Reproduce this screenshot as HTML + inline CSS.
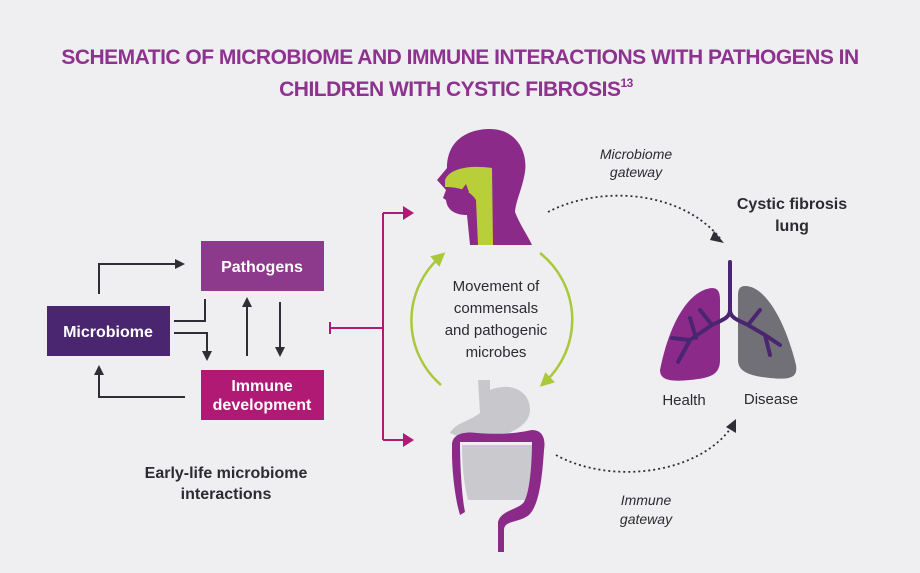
<!DOCTYPE html>
<html><head><meta charset="utf-8"><style>
body{margin:0;background:#efeef1;}
svg{display:block;font-family:"Liberation Sans",sans-serif;}
</style></head><body>
<svg width="920" height="573" viewBox="0 0 920 573">
<rect width="920" height="573" fill="#efeef1"/>
<text x="460" y="64" text-anchor="middle" font-size="21" font-weight="bold" fill="#8e3290" letter-spacing="-0.5">SCHEMATIC OF MICROBIOME AND IMMUNE INTERACTIONS WITH PATHOGENS IN</text>
<text x="456" y="96" text-anchor="middle" font-size="21" font-weight="bold" fill="#8e3290" letter-spacing="-0.5">CHILDREN WITH CYSTIC FIBROSIS<tspan font-size="12" dy="-9">13</tspan></text>

<defs>
<marker id="ah" markerWidth="10" markerHeight="10" refX="5" refY="5" orient="auto" markerUnits="userSpaceOnUse"><path d="M0,0 L10,5 L0,10z" fill="#2e2f36"/></marker>
<marker id="ag" markerWidth="14" markerHeight="14" refX="7" refY="7" orient="auto" markerUnits="userSpaceOnUse"><path d="M0,0 L14,7 L0,14z" fill="#a9c83a"/></marker>
</defs>

<rect x="47" y="306" width="123" height="50" fill="#4b2670"/>
<text x="108" y="337" text-anchor="middle" font-size="16" font-weight="bold" fill="#fff">Microbiome</text>
<rect x="201" y="241" width="123" height="50" fill="#8d3a8c"/>
<text x="262" y="272" text-anchor="middle" font-size="16" font-weight="bold" fill="#fff">Pathogens</text>
<rect x="201" y="370" width="123" height="50" fill="#b01a74"/>
<text x="262" y="391" text-anchor="middle" font-size="16" font-weight="bold" fill="#fff">Immune</text>
<text x="262" y="410" text-anchor="middle" font-size="16" font-weight="bold" fill="#fff">development</text>

<g stroke="#2e2f36" stroke-width="2" fill="none">
<path d="M99,294 V264 H180" marker-end="url(#ah)"/>
<path d="M174,321 H205 V299"/>
<path d="M174,333 H207 V356" marker-end="url(#ah)"/>
<path d="M247,356 V302" marker-end="url(#ah)"/>
<path d="M280,302 V352" marker-end="url(#ah)"/>
<path d="M185,397 H99 V370" marker-end="url(#ah)"/>
</g>
<g stroke="#b01a74" stroke-width="2" fill="none">
<path d="M330,322 V334 M330,328 H383 M383,213 V440 M383,213 H408 M383,440 H408"/>
</g>
<path d="M403,206 L414,213 L403,220z M403,433 L414,440 L403,447z" fill="#b01a74"/>

<text x="226" y="478" text-anchor="middle" font-size="16" font-weight="bold" fill="#2b2b30">Early-life microbiome</text>
<text x="226" y="499" text-anchor="middle" font-size="16" font-weight="bold" fill="#2b2b30">interactions</text>

<!-- head -->
<path d="M470,245 L467,215 C455,215 447,210 446,200 L443,198 L446,190 L437,180 L447,168 C447,140 468,129 490,129 C515,129 528,150 525,172 C522,190 516,200 515,212 C520,225 528,236 532,245 Z" fill="#8c2a8a"/>
<path d="M445,180 C450,168 470,165 492,168 L493,245 L478,245 L476,200 C470,190 458,187 445,187Z" fill="#b8cf3a"/>
<path d="M460,192 l6,-8 l3,8 l-6,3z" fill="#8c2a8a"/>
<!-- gut -->
<path d="M478,380 h12 v10 c20,-8 40,0 40,20 c0,15 -20,25 -40,28 c-15,2 -30,0 -40,-5 c5,-10 20,-12 30,-20 z" fill="#c8c8cc"/>
<path d="M462,445 h72 c0,25 -2,45 -6,55 h-60 c-4,-15 -6,-35 -6,-55z" fill="#c9c9ce"/>
<path d="M452,445 c0,-10 10,-14 25,-12 c25,2 40,0 55,-3 c10,0 14,8 12,20 c-2,30 -5,55 -15,65 c-10,8 -25,5 -25,15 v22 h-6 v-30 c3,-12 20,-12 26,-20 c6,-10 8,-40 8,-60 h-72 c0,25 2,55 5,70 l-5,3 c-6,-20 -8,-50 -8,-60z" fill="#8c2a8a"/>

<!-- green arcs -->
<path d="M441,385 A85,85 0 0 1 440,257" stroke="#a9c83a" stroke-width="2.5" fill="none" marker-end="url(#ag)"/>
<path d="M540,253 A85,85 0 0 1 545,382" stroke="#a9c83a" stroke-width="2.5" fill="none" marker-end="url(#ag)"/>
<text x="496" y="291" text-anchor="middle" font-size="15" fill="#2b2b30">Movement of</text>
<text x="496" y="313" text-anchor="middle" font-size="15" fill="#2b2b30">commensals</text>
<text x="496" y="335" text-anchor="middle" font-size="15" fill="#2b2b30">and pathogenic</text>
<text x="496" y="357" text-anchor="middle" font-size="15" fill="#2b2b30">microbes</text>

<!-- dotted -->
<path d="M548,212 C600,185 680,190 720,238" stroke="#2e2f36" stroke-width="1.8" stroke-dasharray="2,3" fill="none"/>
<path d="M714,231 L724,243 L710,240z" fill="#2e2f36"/>
<path d="M556,455 C610,485 700,475 733,425" stroke="#2e2f36" stroke-width="1.8" stroke-dasharray="2,3" fill="none"/>
<path d="M726,427 L736,419 L736,433z" fill="#2e2f36"/>
<text x="636" y="159" text-anchor="middle" font-size="14" font-style="italic" fill="#2b2b30">Microbiome</text>
<text x="636" y="177" text-anchor="middle" font-size="14" font-style="italic" fill="#2b2b30">gateway</text>
<text x="646" y="505" text-anchor="middle" font-size="14" font-style="italic" fill="#2b2b30">Immune</text>
<text x="646" y="524" text-anchor="middle" font-size="14" font-style="italic" fill="#2b2b30">gateway</text>
<text x="792" y="209" text-anchor="middle" font-size="16" font-weight="bold" fill="#2b2b30">Cystic fibrosis</text>
<text x="792" y="231" text-anchor="middle" font-size="16" font-weight="bold" fill="#2b2b30">lung</text>

<!-- lungs -->
<path d="M712,288 C690,290 670,320 660,370 C660,380 670,382 690,380 C710,378 720,375 720,360 L720,300 C720,292 718,288 712,288Z" fill="#8c2a8a"/>
<path d="M745,286 C765,286 785,320 796,365 C798,378 790,380 770,378 C750,376 738,372 738,360 L738,295 C738,289 740,286 745,286Z" fill="#727077"/>
<g stroke="#4b2670" stroke-width="4" fill="none" stroke-linecap="round">
<path d="M730,262 V310 C730,318 722,320 712,325 L690,340 L678,362 M712,325 L700,310 M696,338 L690,318 M690,340 L672,338 M730,310 C730,318 738,320 748,325 L765,335 L770,355 M748,325 L760,310 M765,335 L780,345"/>
</g>
<text x="684" y="405" text-anchor="middle" font-size="15" fill="#2b2b30">Health</text>
<text x="771" y="404" text-anchor="middle" font-size="15" fill="#2b2b30">Disease</text>
</svg>
</body></html>
